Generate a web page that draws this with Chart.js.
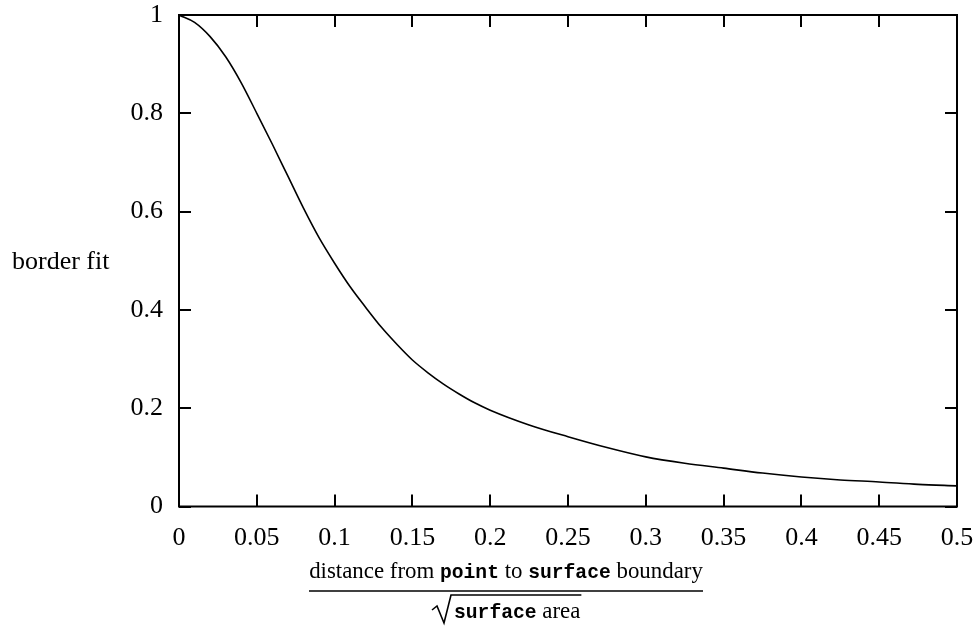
<!DOCTYPE html>
<html>
<head>
<meta charset="utf-8">
<script src="https://cdn.jsdelivr.net/npm/chart.js@4/dist/chart.umd.min.js"></script>
<style>
    html, body { margin: 0; padding: 0; background: #fff; }
    #wrap { width: 977px; height: 628px; position: relative; }
</style>
</head>
<body>
<div id="wrap"><canvas id="fitChart"></canvas></div>
<script>
// ---- data ----
const distance = [0, 0.01, 0.02, 0.03, 0.04, 0.05, 0.06, 0.07, 0.08, 0.09, 0.10,
    0.11, 0.12, 0.13, 0.14, 0.15, 0.16, 0.17, 0.18, 0.19, 0.20,
    0.225, 0.25, 0.275, 0.30, 0.325, 0.35, 0.375, 0.40, 0.425, 0.45, 0.475, 0.50];
const borderFit = [1.0, 0.985, 0.956, 0.915, 0.862, 0.80, 0.737, 0.672, 0.607, 0.547, 0.495,
    0.447, 0.405, 0.365, 0.330, 0.298, 0.272, 0.249, 0.229, 0.211, 0.196,
    0.166, 0.142, 0.120, 0.101, 0.088, 0.078, 0.068, 0.060, 0.054, 0.050, 0.045, 0.042];

const xTicks = [0, 0.05, 0.1, 0.15, 0.2, 0.25, 0.3, 0.35, 0.4, 0.45, 0.5];
const yTicks = [0, 0.2, 0.4, 0.6, 0.8, 1];
const xTickLabels = ['0', '0.05', '0.1', '0.15', '0.2', '0.25', '0.3', '0.35', '0.4', '0.45', '0.5'];
const yTickLabels = ['0', '0.2', '0.4', '0.6', '0.8', '1'];

const yTitle = 'border fit';
// [text, isTypewriter]
const xTitleTop = [['distance from ', false], ['point', true], [' to ', false], ['surface', true], [' boundary', false]];
const xTitleBottom = [['surface', true], [' area', false]];

const SERIF = '"Liberation Serif", "Times New Roman", serif';
const MONO = '"Liberation Mono", "DejaVu Sans Mono", monospace';

Chart.defaults.font.family = SERIF;
Chart.defaults.font.size = 26;
Chart.defaults.color = '#000';

// Draw a run of mixed serif / typewriter text, returns width
function drawRuns(ctx, runs, x, y, size, measureOnly) {
    let w = 0;
    runs.forEach(([txt, tt]) => {
        ctx.font = tt ? 'bold ' + (size * 0.86) + 'px ' + MONO : size + 'px ' + SERIF;
        if (!measureOnly) ctx.fillText(txt, x + w, y);
        w += ctx.measureText(txt).width;
    });
    return w;
}

// Frame, inward ticks on all four sides, and axis titles
const framePlugin = {
    id: 'frameAndTitles',
    afterDraw(chart) {
        const ctx = chart.ctx;
        const area = chart.chartArea;
        const xs = chart.scales.x, ys = chart.scales.y;
        const tickLen = 12;
        ctx.save();
        ctx.strokeStyle = '#000';
        ctx.lineWidth = 2;
        ctx.strokeRect(area.left, area.top, area.right - area.left, area.bottom - area.top);

        ctx.beginPath();
        xTicks.forEach(v => {
            const px = Math.round(xs.getPixelForValue(v));
            ctx.moveTo(px, area.bottom); ctx.lineTo(px, area.bottom - tickLen);
            ctx.moveTo(px, area.top); ctx.lineTo(px, area.top + tickLen);
        });
        yTicks.forEach(v => {
            const py = Math.round(ys.getPixelForValue(v));
            ctx.moveTo(area.left, py); ctx.lineTo(area.left + tickLen, py);
            ctx.moveTo(area.right, py); ctx.lineTo(area.right - tickLen, py);
        });
        ctx.stroke();

        // y title, horizontal, left of the axis
        ctx.fillStyle = '#000';
        ctx.textBaseline = 'alphabetic';
        ctx.font = '26px ' + SERIF;
        ctx.fillText(yTitle, 12, 269);

        // x title as a fraction
        const fracLeft = 309, fracRight = 703;
        let size = 25;
        const w0 = drawRuns(ctx, xTitleTop, 0, 0, size, true);
        size = size * (fracRight - fracLeft) / w0;
        const wTop = drawRuns(ctx, xTitleTop, 0, 0, size, true);
        drawRuns(ctx, xTitleTop, (fracLeft + fracRight) / 2 - wTop / 2, 578, size, false);

        ctx.lineWidth = 1.6;
        ctx.beginPath();
        ctx.moveTo(fracLeft, 591); ctx.lineTo(fracRight, 591);
        ctx.stroke();

        const denX = 454;
        const wBot = drawRuns(ctx, xTitleBottom, denX, 618, size, false);
        // radical sign
        ctx.lineWidth = 1.6;
        ctx.beginPath();
        ctx.moveTo(432, 610);
        ctx.lineTo(437, 606);
        ctx.lineTo(444, 623);
        ctx.lineTo(451, 595);
        ctx.lineTo(denX + wBot + 1, 595);
        ctx.stroke();
        ctx.restore();
    }
};

const ctx = document.getElementById('fitChart');
new Chart(ctx, {
    type: 'scatter',
    data: {
        datasets: [{
            data: distance.map((d, i) => ({ x: d, y: borderFit[i] })),
            showLine: true,
            borderColor: '#000',
            borderWidth: 1.6,
            pointRadius: 0,
            fill: false,
            cubicInterpolationMode: 'monotone'
        }]
    },
    options: {
        responsive: true,
        maintainAspectRatio: false,
        animation: false,
        layout: { padding: { top: 15, right: 20, left: 0, bottom: 0 } },
        plugins: {
            legend: { display: false },
            tooltip: { enabled: false }
        },
        scales: {
            x: {
                type: 'linear',
                min: 0,
                max: 0.5,
                afterBuildTicks: scale => { scale.ticks = xTicks.map(v => ({ value: v })); },
                afterFit: scale => {
                    scale.height = 121.5;
                    scale.paddingLeft = 0;
                    scale.paddingRight = 0;
                },
                grid: { display: false },
                border: { display: false },
                ticks: {
                    padding: 8,
                    maxRotation: 0,
                    autoSkip: false,
                    callback: (v, i) => xTickLabels[i]
                }
            },
            y: {
                type: 'linear',
                min: 0,
                max: 1,
                afterBuildTicks: scale => { scale.ticks = yTicks.map(v => ({ value: v })); },
                afterFit: scale => {
                    scale.width = 179;
                    scale.paddingTop = 0;
                    scale.paddingBottom = 0;
                },
                grid: { display: false },
                border: { display: false },
                ticks: {
                    padding: 8,
                    autoSkip: false,
                    callback: (v, i) => yTickLabels[i]
                }
            }
        }
    },
    plugins: [framePlugin]
});
</script>
</body>
</html>
